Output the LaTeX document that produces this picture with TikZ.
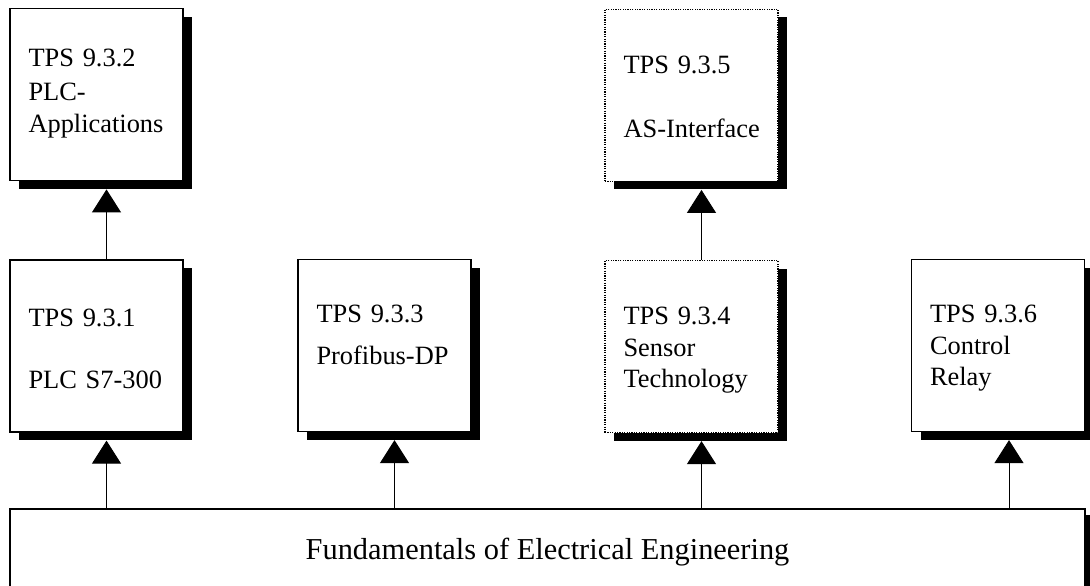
\documentclass[tikz,border=0pt]{standalone}
\usepackage{fontspec}
\setmainfont{Liberation Serif}
\usetikzlibrary{arrows.meta, positioning, shadows, calc}
\tikzset{
    mybox/.style = {
        rectangle,
        draw=black,
        fill=white,
        line width=0.6pt,
        minimum width=86.5pt,
        minimum height=86pt,
        text width=68pt,
        inner xsep=0pt,
        inner ysep=0pt,
        text height=32pt,
        text depth=54pt,
        align=left,
        font=\fontsize{13.2}{15.75}\selectfont,
        drop shadow={shadow xshift=4.5pt, shadow yshift=-4pt, fill=black, opacity=1}
    },
    mydotbox/.style = {
        mybox,
        dash pattern=on 0.6pt off 0.6pt
    },
    mybase/.style = {
        rectangle,
        draw=black,
        fill=white,
        line width=0.6pt,
        minimum width=537.5pt,
        minimum height=43pt,
        font=\fontsize{15.2}{18}\selectfont,
        drop shadow={shadow xshift=4.5pt, shadow yshift=-3pt, fill=black, opacity=1}
    },
    myarrow/.style = {
        line width=0.5pt,
        -{Triangle[width=14.5pt, length=11.5pt]}
    }
}

\begin{document}
\begin{tikzpicture}[x=0.5pt, y=-0.5pt]
\clip (0,0) rectangle (1090,585);

% Grundlagen
\node (base) [mybase] at (547.5,552) {Fundamentals of Electrical Engineering};

% untere Reihe
\node (b931) [mybox, text height=33pt, text depth=53pt] at (96.5,346) {TPS 9.3.1\\[15.25pt]PLC S7-300};
\node (b933) [mybox, text height=31.5pt, text depth=54.5pt] at (384.5,345.5) {TPS 9.3.3\\[5pt]Profibus-DP};
\node (b934) [mydotbox] at (691.5,346.5) {TPS 9.3.4\\Sensor\\Technology};
\node (b936) [mybox, text height=31.5pt, text depth=54.5pt] at (998,345.5) {TPS 9.3.6\\Control\\Relay};

% obere Reihe
\node (b932) [mybox, text height=29pt, text depth=57pt, above=39pt of b931] {TPS 9.3.2\\[1pt]PLC-\\[0.5pt]Applications};
\node (b935) [mydotbox, above=39pt of b934] {TPS 9.3.5\\[16.25pt]\mbox{AS-Interface}};

% Pfeile
\draw [myarrow] ($(b931.south |- base.north)+(5pt,0)$) -- ($(b931.south)+(5pt,-4pt)$);
\draw [myarrow] ($(b933.south |- base.north)+(5pt,0)$) -- ($(b933.south)+(5pt,-4pt)$);
\draw [myarrow] ($(b934.south |- base.north)+(5pt,0)$) -- ($(b934.south)+(5pt,-4pt)$);
\draw [myarrow] ($(b936.south |- base.north)+(5.5pt,0)$) -- ($(b936.south)+(5.5pt,-4pt)$);
\draw [myarrow] ($(b931.north)+(5pt,0)$) -- ($(b932.south)+(5pt,-4pt)$);
\draw [myarrow] ($(b934.north)+(5pt,0)$) -- ($(b935.south)+(5pt,-4pt)$);

\end{tikzpicture}
\end{document}
